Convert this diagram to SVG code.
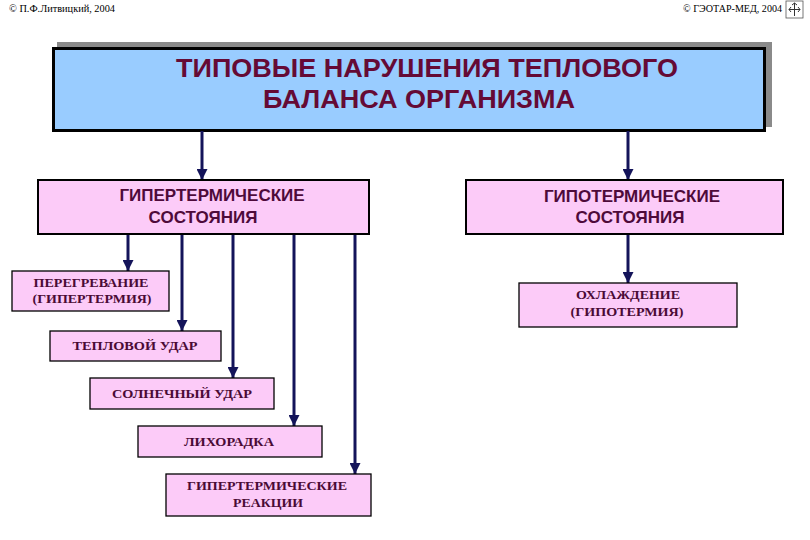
<svg xmlns="http://www.w3.org/2000/svg" width="810" height="540" viewBox="0 0 810 540">
<defs>
<marker id="ah" markerUnits="userSpaceOnUse" markerWidth="11" markerHeight="11" refX="11" refY="5.5" orient="auto" viewBox="0 0 11 11">
<path d="M0,0 L11,5.5 L0,11 Z" fill="#14145a"/>
</marker>
<style>
.hdr{font-family:"Liberation Serif",serif;font-size:10px;fill:#000}
.title{font-family:"Liberation Sans",Arial,sans-serif;font-weight:bold;font-size:26px;fill:#650a35;text-anchor:middle}
.mid{fill:#fccbf8;stroke:#000;stroke-width:2}
.midt{font-family:"Liberation Sans",Arial,sans-serif;font-weight:bold;font-size:17px;fill:#4e0a3a;text-anchor:middle}
.sm{fill:#fccbf8;stroke:#000;stroke-width:1.3}
.smt{font-family:"Liberation Serif","Times New Roman",serif;font-weight:bold;font-size:13px;fill:#4a0a35;text-anchor:middle}
.con{stroke:#14145a;stroke-width:3;fill:none}
</style>
</defs>
<rect width="810" height="540" fill="#fff"/>
<g id="header">
<text class="hdr" x="9" y="12" textLength="106" lengthAdjust="spacingAndGlyphs">© П.Ф.Литвицкий, 2004</text>
<text class="hdr" x="683" y="12" textLength="99" lengthAdjust="spacingAndGlyphs">© ГЭОТАР-МЕД, 2004</text>
<g id="logo">
<rect x="786" y="1" width="17" height="17" fill="#fff" stroke="#555" stroke-width="0.8"/>
<path d="M794.5,3 L794.5,16 M789,9.5 L800,9.5 M791,7 L789,9.5 L791,12 M798,7 L800,9.5 L798,12 M792,5 L794.5,3 L797,5" stroke="#333" stroke-width="1" fill="none"/>
</g>
</g>
<g id="title">
<rect x="57" y="42" width="715" height="85" fill="#8a8a8a"/>
<rect x="53.5" y="48.5" width="711" height="82" fill="#99ccff" stroke="#000" stroke-width="3"/>
<text class="title" x="427" y="77" textLength="502" lengthAdjust="spacingAndGlyphs">ТИПОВЫЕ  НАРУШЕНИЯ  ТЕПЛОВОГО</text>
<text class="title" x="419" y="108" textLength="312" lengthAdjust="spacingAndGlyphs">БАЛАНСА  ОРГАНИЗМА</text>
</g>
<g id="connectors">
<line class="con" x1="202" y1="131" x2="202" y2="180" marker-end="url(#ah)"/>
<line class="con" x1="628" y1="131" x2="628" y2="180" marker-end="url(#ah)"/>
<line class="con" x1="628" y1="234" x2="628" y2="283" marker-end="url(#ah)"/>
<line class="con" x1="128" y1="234" x2="128" y2="271" marker-end="url(#ah)"/>
<line class="con" x1="182" y1="234" x2="182" y2="331" marker-end="url(#ah)"/>
<line class="con" x1="233" y1="234" x2="233" y2="378" marker-end="url(#ah)"/>
<line class="con" x1="294" y1="234" x2="294" y2="426" marker-end="url(#ah)"/>
<line class="con" x1="355" y1="234" x2="355" y2="474" marker-end="url(#ah)"/>
</g>
<g id="hyper">
<rect class="mid" x="38" y="180" width="331" height="54"/>
<text class="midt" x="212" y="201">ГИПЕРТЕРМИЧЕСКИЕ</text>
<text class="midt" x="203" y="223">СОСТОЯНИЯ</text>
</g>
<g id="hypo">
<rect class="mid" x="466" y="180" width="317" height="54"/>
<text class="midt" x="632" y="202">ГИПОТЕРМИЧЕСКИЕ</text>
<text class="midt" x="630" y="223">СОСТОЯНИЯ</text>
</g>
<g id="cooling">
<rect class="sm" x="519" y="283" width="218" height="44"/>
<text class="smt" x="628" y="299" textLength="104" lengthAdjust="spacingAndGlyphs">ОХЛАЖДЕНИЕ</text>
<text class="smt" x="627" y="316" textLength="113" lengthAdjust="spacingAndGlyphs">(ГИПОТЕРМИЯ)</text>
</g>
<g id="overheat">
<rect class="sm" x="12" y="271" width="157" height="40"/>
<text class="smt" x="91" y="287" textLength="115" lengthAdjust="spacingAndGlyphs">ПЕРЕГРЕВАНИЕ</text>
<text class="smt" x="92" y="303" textLength="119" lengthAdjust="spacingAndGlyphs">(ГИПЕРТЕРМИЯ)</text>
</g>
<g id="heatstroke">
<rect class="sm" x="50" y="331" width="171" height="30"/>
<text class="smt" x="135" y="350" textLength="125" lengthAdjust="spacingAndGlyphs">ТЕПЛОВОЙ  УДАР</text>
</g>
<g id="sunstroke">
<rect class="sm" x="90" y="378" width="184" height="31"/>
<text class="smt" x="182" y="398" textLength="140" lengthAdjust="spacingAndGlyphs">СОЛНЕЧНЫЙ  УДАР</text>
</g>
<g id="fever">
<rect class="sm" x="138" y="426" width="184" height="31"/>
<text class="smt" x="229" y="446" textLength="90" lengthAdjust="spacingAndGlyphs">ЛИХОРАДКА</text>
</g>
<g id="reactions">
<rect class="sm" x="166" y="474" width="205" height="42"/>
<text class="smt" x="267" y="490" textLength="160" lengthAdjust="spacingAndGlyphs">ГИПЕРТЕРМИЧЕСКИЕ</text>
<text class="smt" x="268" y="507" textLength="70" lengthAdjust="spacingAndGlyphs">РЕАКЦИИ</text>
</g>
</svg>
